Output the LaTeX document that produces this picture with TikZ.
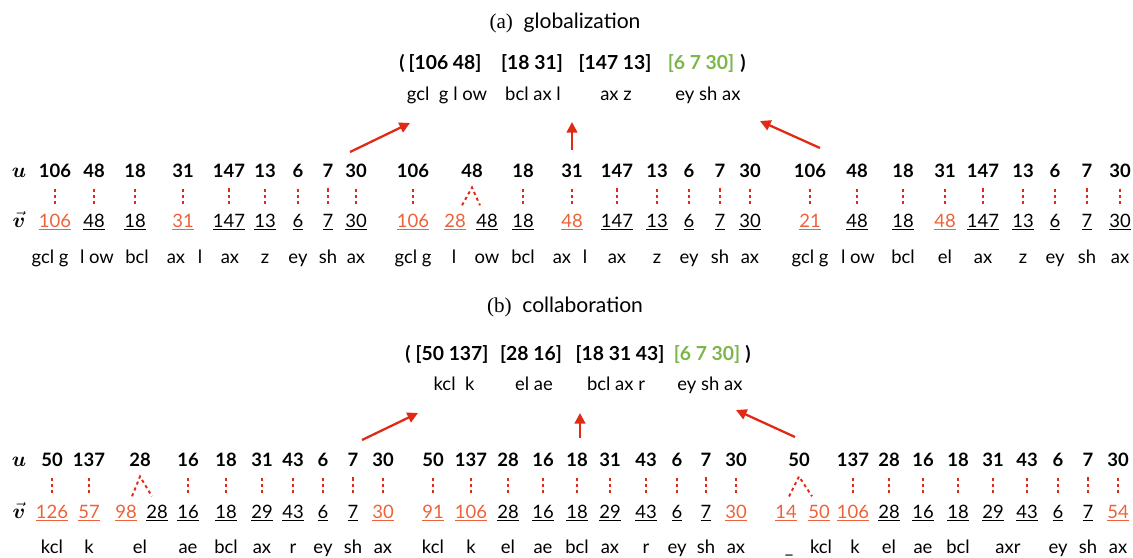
\documentclass[tikz,border=0pt]{standalone}
\usepackage{amsmath}
\usepackage{bm}
\usepackage{fontspec}
\setmainfont{Lato}
\newfontfamily\capfont{Liberation Serif}
\usetikzlibrary{arrows.meta}

\definecolor{vred}{RGB}{236,98,58}
\definecolor{linkred}{RGB}{224,42,22}
\definecolor{tupgreen}{RGB}{122,182,72}

\tikzset{
  unum/.style={anchor=base, inner sep=0pt, font=\fontsize{10.5}{12}\selectfont\bfseries},
  vnum/.style={anchor=base, inner sep=0pt, font=\fontsize{10.5}{12}\selectfont},
  phone/.style={anchor=base, inner sep=0pt, font=\fontsize{10.5}{12}\selectfont},
  tuple/.style={anchor=base, inner sep=0pt, font=\fontsize{11}{13}\selectfont\bfseries},
  tphone/.style={anchor=base, inner sep=0pt, font=\fontsize{10.5}{12}\selectfont},
  caption/.style={anchor=base, inner sep=0pt, font=\fontsize{12}{14}\selectfont},
  rowlabel/.style={anchor=base, inner sep=0pt, font=\fontsize{12}{14}\selectfont},
  link/.style={draw=linkred, line width=1.1pt, dash pattern=on 1.8pt off 1.8pt,
    shorten <=0.22cm, shorten >=0.18cm},
  caret/.style={draw=linkred, line width=1.1pt, dash pattern=on 1.8pt off 1.8pt},
  merge/.style={draw=linkred, line width=1.3pt, -{Triangle[length=6pt,width=6pt]}},
}

\begin{document}
\begin{tikzpicture}[x=0.02cm, y=-0.02cm]
  \useasboundingbox (0,0) rectangle (1133,558);

  % (a) globalization
  \node[caption] (capa) at (565,28) {{\capfont (a)}\ \ globalization};
  \node[tuple] (aopen) at (402,69) {(};
  \node[tuple] (at1) at (445,69) {[106 48]};
  \node[tuple] (at2) at (532,69) {[18 31]};
  \node[tuple] (at3) at (615,69) {[147 13]};
  \node[tuple, text=tupgreen] (at4) at (701,69) {[6 7 30]};
  \node[tuple] (aclose) at (743,69) {)};
  \node[tphone] (atp1) at (447,100) {gcl\ \ g l ow};
  \node[tphone] (atp2) at (533,100) {bcl ax l};
  \node[tphone] (atp3) at (616,100) {ax z};
  \node[tphone] (atp4) at (708,100) {ey sh ax};

  \node[rowlabel] (au) at (19,177) {$\bm{u}$};
  \node[rowlabel] (av) at (19,227) {$\vec{\bm{v}}$};

  % group a1
  \foreach \x/\n [count=\i] in {55/106, 94/48, 135/18, 183/31, 229/147, 265/13, 298/6, 328/7, 356/30}
    \node[unum] (a1u\i) at (\x,177) {\n};
  \foreach \x/\n/\c [count=\i] in {55/106/vred, 94/48/black, 135/18/black, 183/31/vred, 229/147/black,
      265/13/black, 298/6/black, 328/7/black, 356/30/black}
    \node[vnum, text=\c] (a1v\i) at (\x,227) {\underline{\n}};
  \foreach \x/\t [count=\i] in {50/gcl g, 97/l ow, 137/bcl, 176/ax, 200/l, 230/ax, 265/z, 298/ey, 328/sh, 356/ax}
    \node[phone] (a1p\i) at (\x,263) {\t};
  \foreach \i in {1,...,9}
    \draw[link] (a1u\i.south) -- (a1u\i.south |- a1v\i.north);

  % group a2
  \foreach \x/\n [count=\i] in {413/106, 472/48, 523/18, 572/31, 617/147, 657/13, 689/6, 720/7, 750/30}
    \node[unum] (a2u\i) at (\x,177) {\n};
  \foreach \x/\n/\c [count=\i] in {413/106/vred, 455/28/vred, 487/48/black, 523/18/black, 572/48/vred,
      617/147/black, 657/13/black, 689/6/black, 720/7/black, 750/30/black}
    \node[vnum, text=\c] (a2v\i) at (\x,227) {\underline{\n}};
  \foreach \x/\t [count=\i] in {413/gcl g, 454/l, 487/ow, 523/bcl, 562/ax, 585/l, 617/ax, 657/z, 689/ey, 720/sh, 750/ax}
    \node[phone] (a2p\i) at (\x,263) {\t};
  \draw[link] (a2u1.south) -- (a2u1.south |- a2v1.north);
  \draw[caret] ([shift={(-0.08cm,0.16cm)}]a2v2.north east) -- ([yshift=-0.2cm]a2u2.south)
    -- ([shift={(0.08cm,0.16cm)}]a2v3.north west);
  \foreach \i/\j in {3/4, 4/5, 5/6, 6/7, 7/8, 8/9, 9/10}
    \draw[link] (a2u\i.south) -- (a2u\i.south |- a2v\j.north);

  % group a3
  \foreach \x/\n [count=\i] in {810/106, 857/48, 903/18, 945/31, 983/147, 1023/13, 1055/6, 1087/7, 1120/30}
    \node[unum] (a3u\i) at (\x,177) {\n};
  \foreach \x/\n/\c [count=\i] in {810/21/vred, 857/48/black, 903/18/black, 945/48/vred, 983/147/black,
      1023/13/black, 1055/6/black, 1087/7/black, 1120/30/black}
    \node[vnum, text=\c] (a3v\i) at (\x,227) {\underline{\n}};
  \foreach \x/\t [count=\i] in {810/gcl g, 858/l ow, 903/bcl, 945/el, 983/ax, 1023/z, 1055/ey, 1087/sh, 1120/ax}
    \node[phone] (a3p\i) at (\x,263) {\t};
  \foreach \i in {1,...,9}
    \draw[link] (a3u\i.south) -- (a3u\i.south |- a3v\i.north);

  % arrows to the tuple
  \coordinate (a1from) at (350,152);
  \coordinate (a1to) at (410,123);
  \coordinate (a2from) at (572,150);
  \coordinate (a2to) at (572,122);
  \coordinate (a3from) at (820,148);
  \coordinate (a3to) at (760,121);
  \draw[merge] (a1from) -- (a1to);
  \draw[merge] (a2from) -- (a2to);
  \draw[merge] (a3from) -- (a3to);

  % (b) collaboration
  \node[caption] (capb) at (565,312) {{\capfont (b)}\ \ collaboration};
  \node[tuple] (bopen) at (408,360) {(};
  \node[tuple] (bt1) at (452,360) {[50 137]};
  \node[tuple] (bt2) at (531,360) {[28 16]};
  \node[tuple] (bt3) at (620,360) {[18 31 43]};
  \node[tuple, text=tupgreen] (bt4) at (707,360) {[6 7 30]};
  \node[tuple] (bclose) at (748,360) {)};
  \node[tphone] (btp1) at (454,390) {kcl\ \ k};
  \node[tphone] (btp2) at (534,390) {el ae};
  \node[tphone] (btp3) at (616,390) {bcl ax r};
  \node[tphone] (btp4) at (710,390) {ey sh ax};

  \node[rowlabel] (bu) at (19,466) {$\bm{u}$};
  \node[rowlabel] (bv) at (19,518) {$\vec{\bm{v}}$};

  % group b1
  \foreach \x/\n [count=\i] in {52/50, 89/137, 140/28, 188/16, 226/18, 262/31, 293/43, 323/6, 353/7, 383/30}
    \node[unum] (b1u\i) at (\x,466) {\n};
  \foreach \x/\n/\c [count=\i] in {52/126/vred, 89/57/vred, 126/98/vred, 157/28/black, 188/16/black,
      226/18/black, 262/29/black, 293/43/black, 323/6/black, 353/7/black, 383/30/vred}
    \node[vnum, text=\c] (b1v\i) at (\x,518) {\underline{\n}};
  \foreach \x/\t [count=\i] in {52/kcl, 89/k, 140/el, 188/ae, 226/bcl, 262/ax, 293/r, 323/ey, 353/sh, 383/ax}
    \node[phone] (b1p\i) at (\x,553) {\t};
  \foreach \i in {1,2}
    \draw[link] (b1u\i.south) -- (b1u\i.south |- b1v\i.north);
  \draw[caret] ([shift={(-0.1cm,0.16cm)}]b1v3.north east) -- ([yshift=-0.2cm]b1u3.south)
    -- ([shift={(0.12cm,0.16cm)}]b1v4.north west);
  \foreach \i/\j in {4/5, 5/6, 6/7, 7/8, 8/9, 9/10, 10/11}
    \draw[link] (b1u\i.south) -- (b1u\i.south |- b1v\j.north);

  % group b2
  \foreach \x/\n [count=\i] in {433/50, 471/137, 508/28, 543/16, 577/18, 610/31, 646/43, 677/6, 706/7, 736/30}
    \node[unum] (b2u\i) at (\x,466) {\n};
  \foreach \x/\n/\c [count=\i] in {433/91/vred, 471/106/vred, 508/28/black, 543/16/black, 577/18/black,
      610/29/black, 646/43/black, 677/6/black, 706/7/black, 736/30/vred}
    \node[vnum, text=\c] (b2v\i) at (\x,518) {\underline{\n}};
  \foreach \x/\t [count=\i] in {433/kcl, 471/k, 508/el, 543/ae, 577/bcl, 610/ax, 646/r, 677/ey, 706/sh, 736/ax}
    \node[phone] (b2p\i) at (\x,553) {\t};
  \foreach \i in {1,...,10}
    \draw[link] (b2u\i.south) -- (b2u\i.south |- b2v\i.north);

  % group b3
  \foreach \x/\n [count=\i] in {799/50, 853/137, 889/28, 923/16, 958/18, 993/31, 1027/43, 1058/6, 1088/7, 1118/30}
    \node[unum] (b3u\i) at (\x,466) {\n};
  \foreach \x/\n/\c [count=\i] in {786/14/vred, 819/50/vred, 853/106/vred, 889/28/black, 923/16/black,
      958/18/black, 993/29/black, 1027/43/black, 1058/6/black, 1088/7/black, 1118/54/vred}
    \node[vnum, text=\c] (b3v\i) at (\x,518) {\underline{\n}};
  \foreach \x/\t [count=\i] in {789/\_, 821/kcl, 855/k, 889/el, 923/ae, 958/bcl, 1008/axr, 1058/ey, 1088/sh, 1118/ax}
    \node[phone] (b3p\i) at (\x,553) {\t};
  \draw[caret] ([shift={(-0.16cm,0.16cm)}]b3v1.north east) -- ([yshift=-0.2cm]b3u1.south)
    -- ([shift={(0.08cm,0.16cm)}]b3v2.north west);
  \foreach \i/\j in {2/3, 3/4, 4/5, 5/6, 6/7, 7/8, 8/9, 9/10, 10/11}
    \draw[link] (b3u\i.south) -- (b3u\i.south |- b3v\j.north);

  % arrows to the tuple
  \coordinate (b1from) at (362,440);
  \coordinate (b1to) at (418,413);
  \coordinate (b2from) at (580,438);
  \coordinate (b2to) at (580,413);
  \coordinate (b3from) at (795,437);
  \coordinate (b3to) at (736,410);
  \draw[merge] (b1from) -- (b1to);
  \draw[merge] (b2from) -- (b2to);
  \draw[merge] (b3from) -- (b3to);
\end{tikzpicture}
\end{document}
